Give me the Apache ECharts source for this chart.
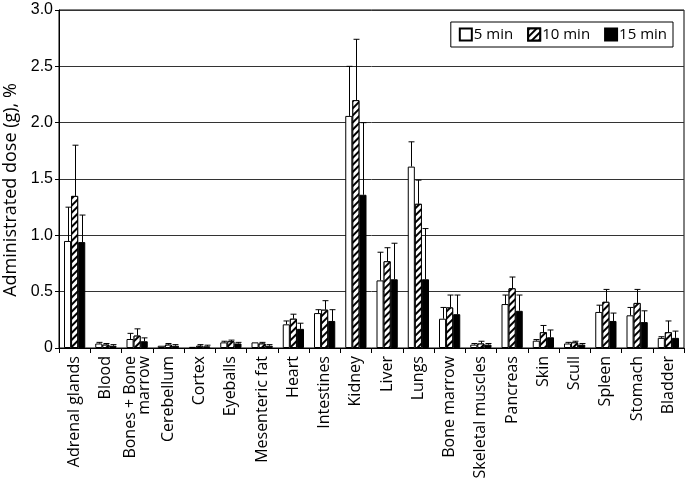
<!DOCTYPE html>
<html>
<head>
<meta charset="utf-8">
<script src="https://cdn.jsdelivr.net/npm/echarts@6/dist/echarts.min.js"></script>
<style>
  html, body { margin: 0; padding: 0; background: #fff; }
  #chart { width: 685px; height: 498px; }
</style>
</head>
<body>
<div id="chart"></div>
<script>
const categories = ['Adrenal glands', 'Blood', 'Bones + Bone\nmarrow', 'Cerebellum', 'Cortex', 'Eyeballs',
    'Mesenteric fat', 'Heart', 'Intestines', 'Kidney', 'Liver', 'Lungs', 'Bone marrow',
    'Skeletal muscles', 'Pancreas', 'Skin', 'Scull', 'Spleen', 'Stomach', 'Bladder'];

const min5 = [0.95, 0.04, 0.08, 0.02, 0.01, 0.05, 0.05, 0.21, 0.31, 2.06, 0.60, 1.61, 0.26, 0.03, 0.39, 0.065, 0.04, 0.32, 0.29, 0.09];
const err5 = [0.30, 0.01, 0.05, 0, 0, 0.01, 0, 0.03, 0.03, 0.44, 0.25, 0.22, 0.10, 0.01, 0.08, 0.01, 0.01, 0.06, 0.07, 0.01];

const min10 = [1.35, 0.03, 0.11, 0.03, 0.02, 0.06, 0.04, 0.26, 0.34, 2.20, 0.77, 1.28, 0.36, 0.04, 0.53, 0.14, 0.05, 0.41, 0.40, 0.14];
const err10 = [0.45, 0.01, 0.06, 0.01, 0.01, 0.01, 0.01, 0.04, 0.08, 0.54, 0.12, 0.21, 0.11, 0.02, 0.10, 0.06, 0.01, 0.11, 0.12, 0.10];

const min15 = [0.94, 0.02, 0.06, 0.02, 0.015, 0.04, 0.02, 0.17, 0.24, 1.36, 0.61, 0.61, 0.30, 0.03, 0.33, 0.095, 0.03, 0.24, 0.23, 0.09];
const err15 = [0.24, 0.01, 0.03, 0.01, 0.01, 0.01, 0.01, 0.05, 0.10, 0.64, 0.32, 0.45, 0.17, 0.01, 0.14, 0.065, 0.01, 0.07, 0.10, 0.06];

const seriesNames = ['5 min', '10 min', '15 min'];
const CAT_GAP = 0.32;
const FONT = 'Open Sans';
const TICK_FONT = 'Liberation Sans';

const hatch = {
    symbol: 'rect',
    dashArrayX: [1, 0],
    dashArrayY: [1.2, 2.8],
    rotation: -Math.PI / 4,
    color: '#000',
    backgroundColor: '#fff'
};

const styles = [
    { color: '#fff', borderColor: '#000', borderWidth: 1 },
    { color: '#fff', borderColor: '#000', borderWidth: 1, decal: hatch },
    { color: '#000', borderColor: '#000', borderWidth: 1 }
];

function errorSeries(k, values, errs) {
    return {
        type: 'custom',
        silent: true,
        z: 5,
        renderItem: function(params, api) {
            const i = api.value(0);
            const v = api.value(1);
            const e = api.value(2);
            if (!e) return;
            const band = api.size([1, 0])[0];
            const bw = band * (1 - CAT_GAP) / 3;
            const base = api.coord([i, v]);
            const top = api.coord([i, v + e]);
            const x = Math.round(base[0] + (k - 1) * bw) + 0.5;
            const half = bw * 0.42;
            const style = { stroke: '#000', lineWidth: 1 };
            return {
                type: 'group',
                children: [
                    { type: 'line', shape: { x1: x, y1: base[1], x2: x, y2: top[1] }, style: style },
                    { type: 'line', shape: { x1: x - half, y1: top[1], x2: x + half, y2: top[1] }, style: style }
                ]
            };
        },
        data: values.map((v, i) => [i, v, errs[i]])
    };
}

const chart = echarts.init(document.getElementById('chart'));

const option = {
    animation: false,
    backgroundColor: '#fff',
    textStyle: { fontFamily: FONT },
    grid: {
        left: 59, right: 1, top: 10, bottom: 150,
        outerBoundsMode: 'none',
        show: true, borderColor: '#000', borderWidth: 1
    },
    legend: {
        data: seriesNames,
        right: 12,
        top: 22,
        orient: 'horizontal',
        icon: 'rect',
        borderColor: '#000',
        borderWidth: 1,
        padding: [5, 6, 5, 8],
        itemGap: 14,
        itemWidth: 12,
        itemHeight: 12,
        textStyle: { fontFamily: FONT, fontSize: 15, color: '#000', padding: [0, 0, 0, -3] }
    },
    xAxis: {
        type: 'category',
        data: categories,
        axisLine: { lineStyle: { color: '#000', width: 1 } },
        axisTick: { show: true, length: 5, lineStyle: { color: '#000' } },
        axisLabel: {
            interval: 0,
            rotate: 90,
            fontFamily: FONT,
            fontSize: 16,
            lineHeight: 14,
            color: '#000',
            margin: 8
        }
    },
    yAxis: {
        type: 'value',
        min: 0,
        max: 3,
        interval: 0.5,
        name: 'Administrated dose (g), %',
        nameLocation: 'middle',
        nameRotate: 90,
        nameGap: 32,
        nameTextStyle: { fontFamily: FONT, fontSize: 18, color: '#000', padding: [0, 0, 0, -22] },
        axisLine: { show: true, lineStyle: { color: '#000', width: 1 } },
        axisTick: { show: true, length: 4, lineStyle: { color: '#000' } },
        axisLabel: {
            fontFamily: TICK_FONT,
            fontSize: 16,
            color: '#000',
            margin: 6,
            formatter: v => v === 0 ? '0' : v.toFixed(1)
        },
        splitLine: { lineStyle: { color: '#333', width: 1 } }
    },
    series: [
        { name: seriesNames[0], type: 'bar', data: min5, itemStyle: styles[0], barGap: '0%', barCategoryGap: (CAT_GAP * 100) + '%' },
        { name: seriesNames[1], type: 'bar', data: min10, itemStyle: styles[1], barGap: '0%', barCategoryGap: (CAT_GAP * 100) + '%' },
        { name: seriesNames[2], type: 'bar', data: min15, itemStyle: styles[2], barGap: '0%', barCategoryGap: (CAT_GAP * 100) + '%' },
        errorSeries(0, min5, err5),
        errorSeries(1, min10, err10),
        errorSeries(2, min15, err15)
    ]
};

chart.setOption(option);
</script>
</body>
</html>
